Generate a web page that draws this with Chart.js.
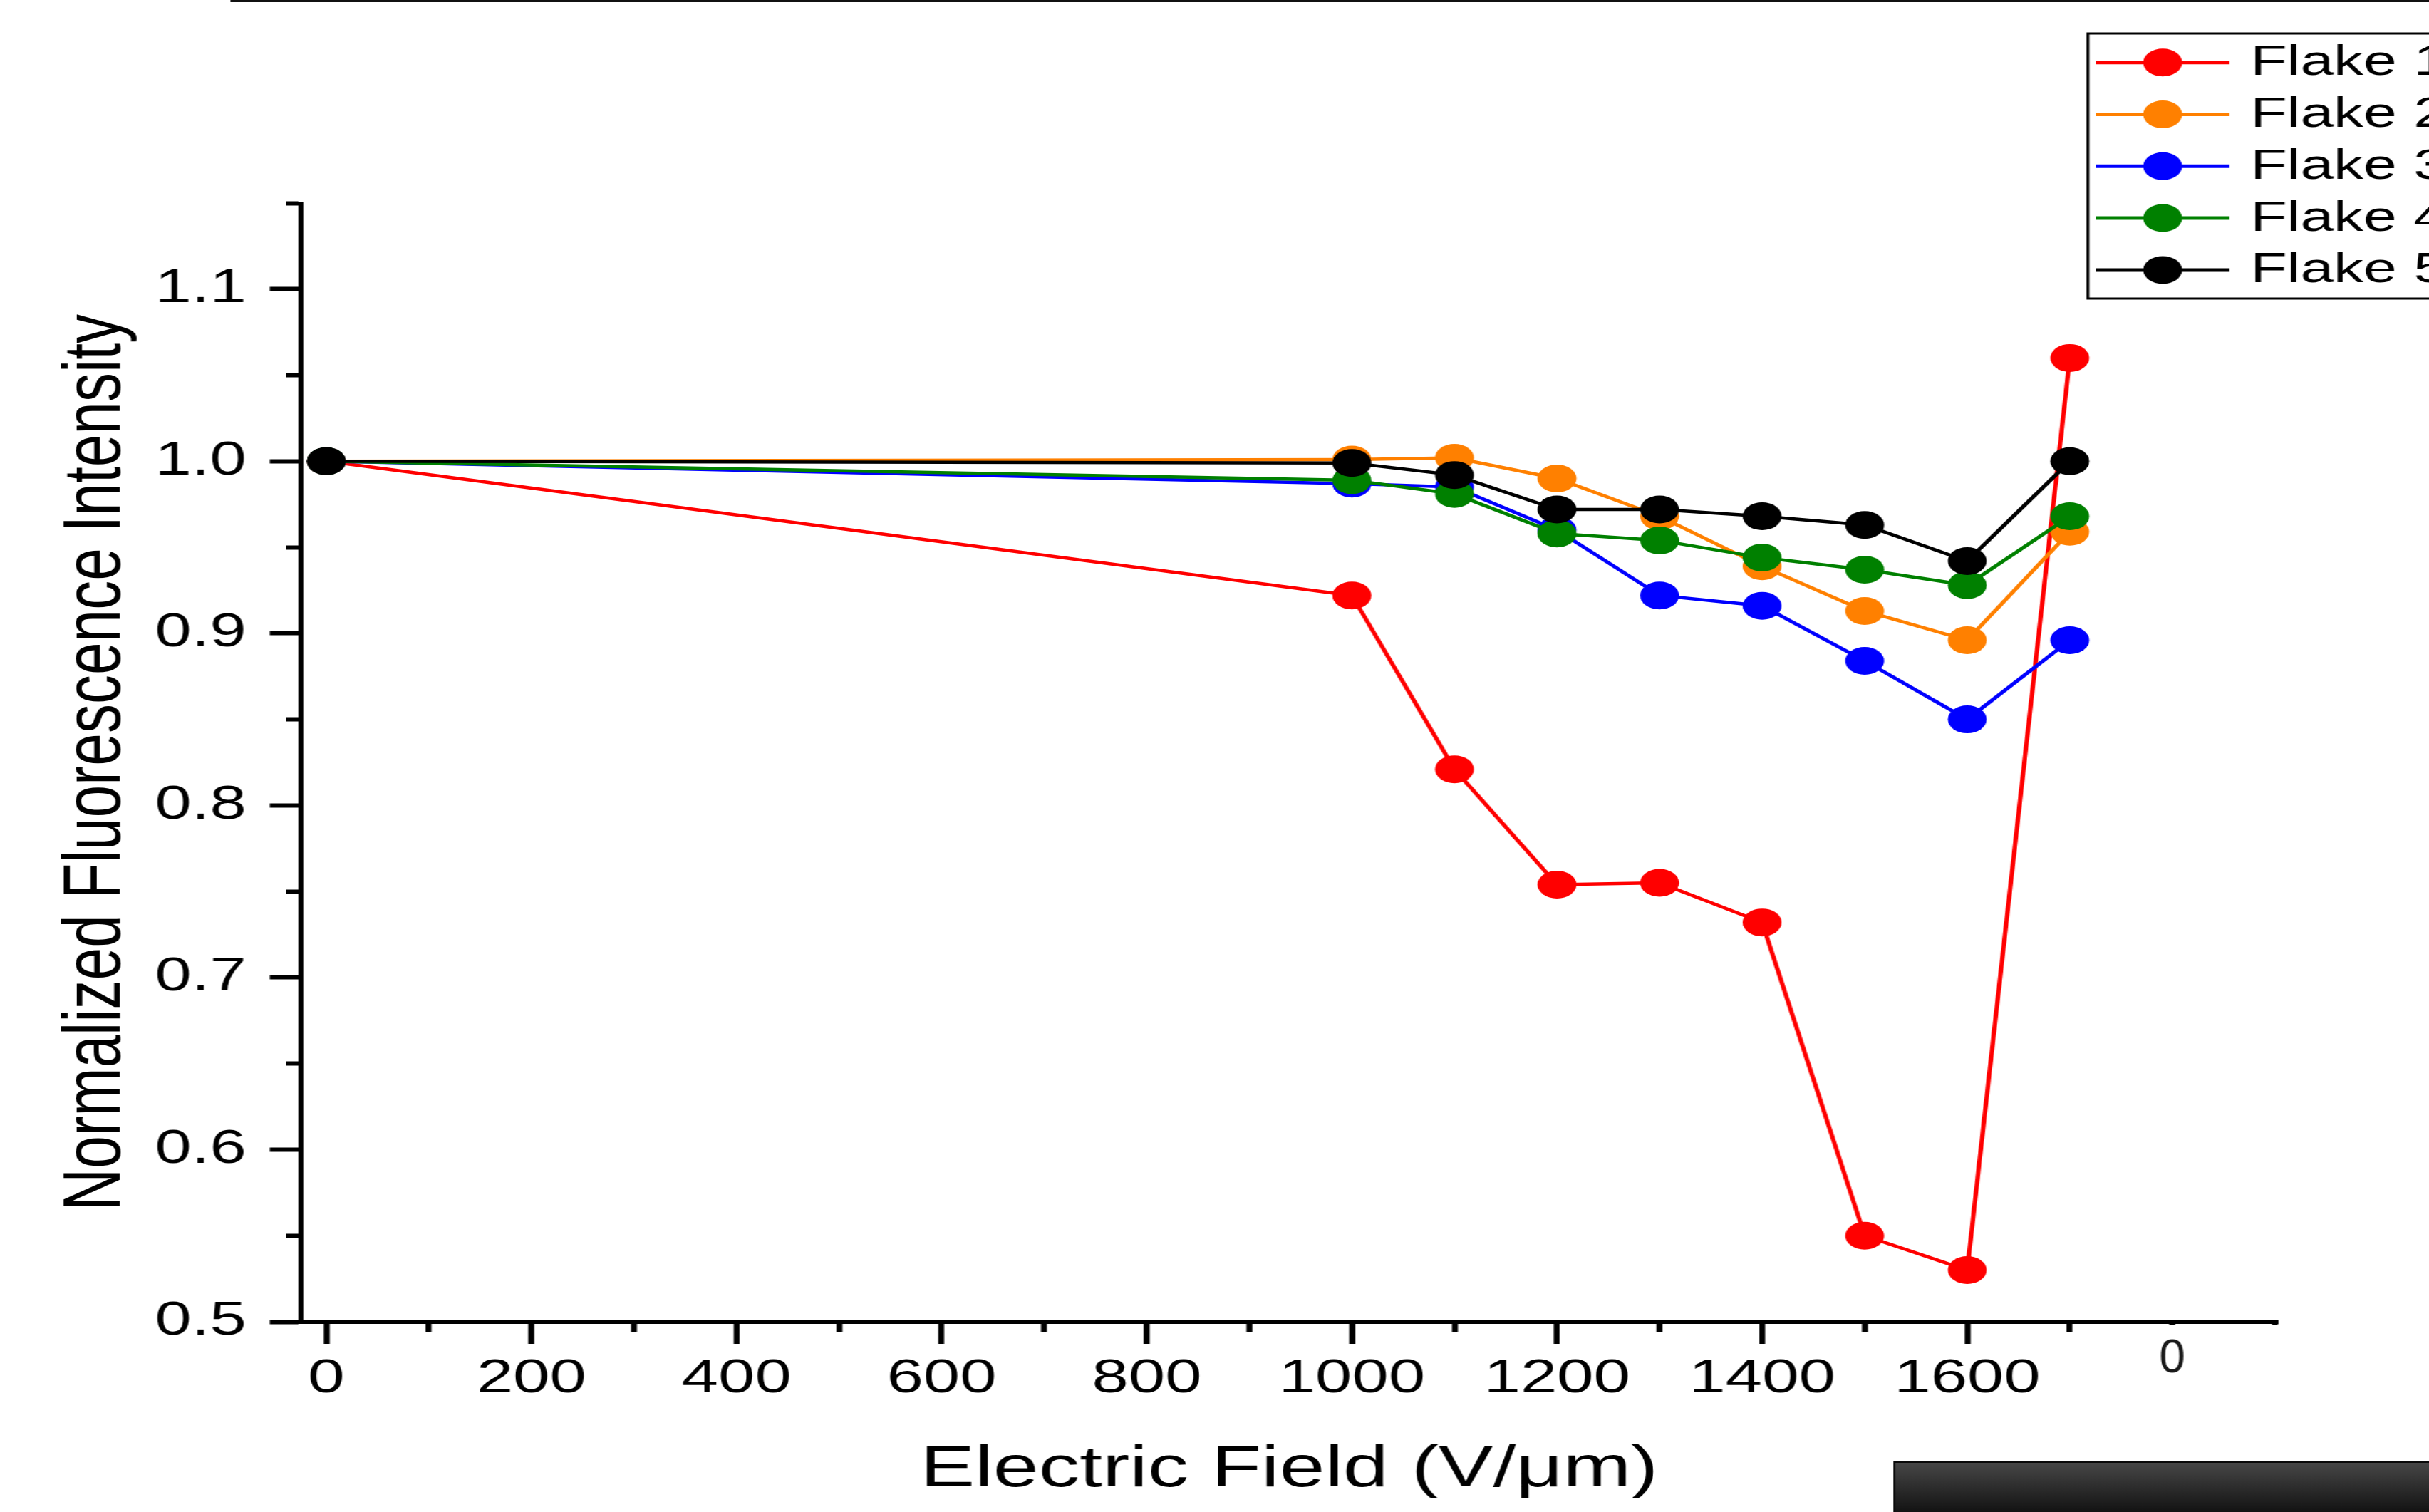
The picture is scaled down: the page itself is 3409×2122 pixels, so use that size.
<!DOCTYPE html>
<html>
<head>
<meta charset="utf-8">
<script src="https://cdn.jsdelivr.net/npm/chart.js@4.4.1/dist/chart.umd.min.js"></script>
<style>
  html, body { margin: 0; padding: 0; background: #fff; overflow: hidden; }
  #chart { display: block; }
</style>
</head>
<body>
<!-- the original figure is stretched sideways, so draw on a narrower
     canvas and let the inline style widen it to the full 3409px -->
<canvas id="chart" width="2435" height="2122" style="width:3409px;height:2122px"></canvas>
<script>
// Normalised fluorescence of five flakes vs. applied electric field
var fields = [0, 1000, 1100, 1200, 1300, 1400, 1500, 1600, 1700];
var flake1 = [1.000, 0.922, 0.821, 0.754, 0.755, 0.732, 0.550, 0.530, 1.060];
var flake2 = [1.000, 1.001, 1.002, 0.990, 0.968, 0.939, 0.913, 0.896, 0.959];
var flake3 = [1.000, 0.987, 0.985, 0.960, 0.922, 0.916, 0.884, 0.850, 0.896];
var flake4 = [1.000, 0.989, 0.981, 0.958, 0.954, 0.944, 0.937, 0.928, 0.968];
var flake5 = [1.000, 0.999, 0.992, 0.972, 0.972, 0.968, 0.963, 0.942, 1.000];

var seriesNames  = ['Flake 1', 'Flake 2', 'Flake 3', 'Flake 4', 'Flake 5'];
var seriesValues = [flake1, flake2, flake3, flake4, flake5];
var seriesColors = ['#ff0000', '#ff8000', '#0000ff', '#008000', '#000000'];
var drawOrder    = [4, 3, 2, 1, 0];   // later flakes sit on top

var xMajorTicks = [0, 200, 400, 600, 800, 1000, 1200, 1400, 1600];
var yMajorTicks = [0.5, 0.6, 0.7, 0.8, 0.9, 1.0, 1.1];

var FONT = '"Liberation Sans", Arial, sans-serif';
var STRETCH = 3409 / 2435;

Chart.defaults.font.family = FONT;
Chart.defaults.color = '#000';

function isYMajor(v) {
  return yMajorTicks.some(function(t) { return Math.abs(t - v) < 1e-6; });
}

// legend box, the frame edge at the top, the stray "0" and the dark bar
var decorPlugin = {
  id: 'decor',
  afterDraw: function(chart) {
    var ctx = chart.ctx, W = chart.width;
    ctx.save();

    ctx.fillStyle = '#111';
    ctx.fillRect(231, 0, W - 231, 3);

    // legend
    var lx = 2093, top = 47, bottom = 419, firstRow = 87.7, rowH = 72.8;
    ctx.lineWidth = 3;
    ctx.strokeStyle = '#000';
    ctx.strokeRect(lx, top, W - lx + 10, bottom - top);
    chart.data.datasets.forEach(function(ds, i) {
      var y = firstRow + i * rowH;
      ctx.strokeStyle = ds.borderColor;
      ctx.lineWidth = 5;
      ctx.beginPath();
      ctx.moveTo(2101, y);
      ctx.lineTo(2235, y);
      ctx.stroke();
      ctx.fillStyle = ds.pointBackgroundColor;
      ctx.beginPath();
      ctx.arc(2168, y, 19.5, 0, 2 * Math.PI);
      ctx.fill();
      ctx.fillStyle = '#000';
      ctx.font = '60px ' + FONT;
      ctx.textAlign = 'left';
      ctx.textBaseline = 'middle';
      ctx.fillText(ds.label, 2256, y + 1);
    });

    // the unstretched "0" label sitting under the 1800 tick
    var xs = chart.scales.x;
    ctx.save();
    ctx.translate(xs.getPixelForValue(1800), 1908);
    ctx.scale(1 / STRETCH, 1);
    ctx.fillStyle = '#1a1a1a';
    ctx.font = '66px ' + FONT;
    ctx.textAlign = 'center';
    ctx.textBaseline = 'middle';
    ctx.fillText('0', 0, 0);
    ctx.restore();

    // dark bar in the bottom-right corner
    var g = ctx.createLinearGradient(0, 2052, 0, 2122);
    g.addColorStop(0, '#474747');
    g.addColorStop(1, '#131313');
    ctx.fillStyle = g;
    ctx.fillRect(1899, 2052, W - 1899, 70);
    ctx.strokeStyle = '#0a0a0a';
    ctx.lineWidth = 2;
    ctx.strokeRect(1899, 2052, W, 90);

    ctx.restore();
  }
};

var datasets = seriesNames.map(function(name, i) {
  return {
    label: name,
    data: fields.map(function(x, j) { return { x: x, y: seriesValues[i][j] }; }),
    borderColor: seriesColors[i],
    backgroundColor: seriesColors[i],
    pointBackgroundColor: seriesColors[i],
    pointBorderWidth: 0,
    pointRadius: 19.5,
    pointHoverRadius: 19.5,
    borderWidth: 4.5,
    tension: 0,
    clip: false,
    order: drawOrder[i]
  };
});

new Chart(document.getElementById('chart'), {
  type: 'line',
  data: { datasets: datasets },
  options: {
    responsive: false,
    animation: false,
    devicePixelRatio: 1,
    events: [],
    layout: { padding: { left: 0, top: 285, right: 151.4, bottom: 0 } },
    plugins: {
      legend: { display: false },
      tooltip: { enabled: false },
      title: { display: false }
    },
    scales: {
      x: {
        type: 'linear',
        min: -25,
        max: 1903,
        afterFit: function(s) { s.height = 267; },
        border: { color: '#000', width: 6 },
        grid: {
          drawOnChartArea: false,
          tickLength: 31,
          tickWidth: 6,
          tickColor: '#000',
          tickBorderDash: function(c) {
            var v = c.tick.value;
            if (xMajorTicks.indexOf(v) >= 0) return [];
            if (v >= 1800) return [2, 1000];
            return [12, 1000];
          }
        },
        ticks: {
          stepSize: 100,
          includeBounds: false,
          autoSkip: false,
          maxRotation: 0,
          padding: 10,
          font: { size: 66 },
          callback: function(v) { return xMajorTicks.indexOf(v) >= 0 ? String(v) : ''; }
        },
        title: {
          display: true,
          text: 'Electric Field (V/\u03bcm)',
          font: { size: 82 },
          padding: { top: 0, bottom: 9 }
        }
      },
      y: {
        min: 0.5,
        max: 1.15,
        afterFit: function(s) { s.width = 301.4; },
        border: { color: '#000', width: 5 },
        grid: {
          drawOnChartArea: false,
          tickLength: 31,
          tickWidth: 6,
          tickColor: '#000',
          tickBorderDash: function(c) {
            return isYMajor(c.tick.value) ? [] : [0, 16.6, 100];
          }
        },
        ticks: {
          stepSize: 0.05,
          autoSkip: false,
          padding: 23.4,
          font: { size: 66 },
          callback: function(v) { return isYMajor(v) ? v.toFixed(1) : ''; }
        },
        title: {
          display: true,
          text: 'Normalized Fluorescence Intensity',
          font: { size: 82 },
          padding: { top: 48, bottom: 0 }
        }
      }
    }
  },
  plugins: [decorPlugin]
});
</script>
</body>
</html>
